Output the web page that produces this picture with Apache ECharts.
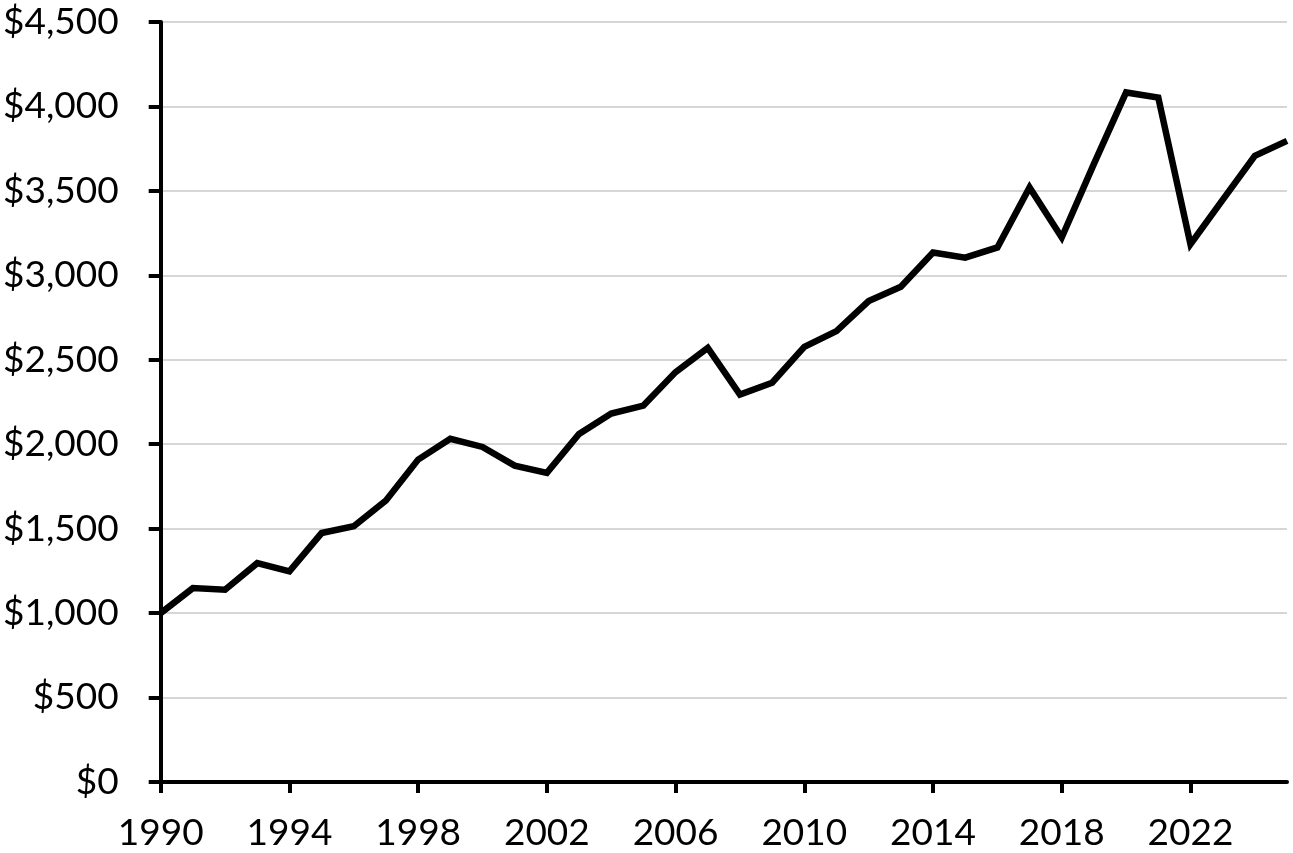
<!DOCTYPE html>
<html>
<head>
<meta charset="UTF-8">
<title>Trend</title>
<script src="https://cdn.jsdelivr.net/npm/echarts@6/dist/echarts.min.js"></script>
<style>
  html, body { margin: 0; padding: 0; background: #fff; }
  #main { width: 1293px; height: 853px; }
</style>
</head>
<body>
<div id="main"></div>
<script type="text/javascript">
    // years on the x axis
    var years = [];
    for (var y = 1990; y <= 2025; y++) { years.push(String(y)); }

    // values, one per year
    var values = [1000, 1148, 1139, 1296, 1247, 1474, 1514, 1667, 1909, 2032,
                  1984, 1873, 1830, 2061, 2182, 2229, 2427, 2571, 2294, 2364,
                  2577, 2670, 2848, 2932, 3135, 3105, 3165, 3520, 3224, 3660,
                  4083, 4053, 3184, 3447, 3708, 3796];

    var yTicks = { min: 0, max: 4500, interval: 500 };

    var myChart = echarts.init(document.getElementById('main'));

    var font = 'Lato, "Noto Sans", sans-serif';

    var option = {
        animation: false,
        grid: { left: 160, right: 6, top: 22, bottom: 71 },
        xAxis: {
            type: 'category',
            data: years,
            boundaryGap: false,
            axisLine: { lineStyle: { color: '#000', width: 4 } },
            axisTick: { interval: 3, length: 11, lineStyle: { color: '#000', width: 4 } },
            axisLabel: { interval: 3, margin: 33, color: '#000', fontSize: 37, fontFamily: font },
            splitLine: { show: false }
        },
        yAxis: {
            type: 'value',
            min: yTicks.min,
            max: yTicks.max,
            interval: yTicks.interval,
            axisLine: { show: true, lineStyle: { color: '#000', width: 4 } },
            axisTick: { show: true, length: 12, lineStyle: { color: '#000', width: 4 } },
            axisLabel: {
                margin: 42,
                color: '#000',
                fontSize: 37,
                fontFamily: font,
                formatter: function (v) { return '$' + v.toLocaleString('en-US'); }
            },
            splitLine: { lineStyle: { color: '#c8c8c8', width: 1.5 } }
        },
        series: [{
            type: 'line',
            data: values,
            symbol: 'none',
            lineStyle: { color: '#000', width: 6.5, join: 'miter' }
        }]
    };
    myChart.setOption(option);
</script>
</body>
</html>
